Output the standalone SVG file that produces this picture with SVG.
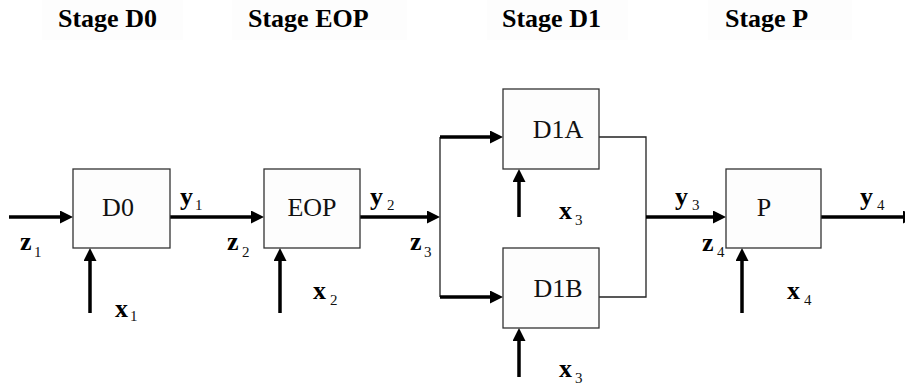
<svg xmlns="http://www.w3.org/2000/svg" width="905" height="386" viewBox="0 0 905 386">
  <defs>
    <!-- filled arrowhead, 13px long; the shaft stops 10px short of the tip -->
    <marker id="head" markerUnits="userSpaceOnUse" markerWidth="13" markerHeight="13" refX="3" refY="6.5" orient="auto" viewBox="0 0 13 13">
      <path d="M0,0 L13,6.5 L0,13 z" fill="#000"/>
    </marker>
    <style>
      text { font-family: 'Liberation Serif', 'Times New Roman', serif; }
      .stage { font-weight: bold; font-size: 26px; fill: #000; }
      .stage-bg { fill: #fdfdfd; }
      .box { fill: #fdfdfd; stroke: #333; stroke-width: 1.3; }
      .name { font-size: 26px; fill: #111; text-anchor: middle; }
      .var { font-weight: bold; font-size: 26px; fill: #000; }
      .sub { font-size: 15px; fill: #111; }
      .thick { fill: none; stroke: #000; stroke-width: 3.5; marker-end: url(#head); }
      .thin { fill: none; stroke: #222; stroke-width: 1.3; }
    </style>
  </defs>

  <!-- stage headings -->
  <g id="stages">
    <rect class="stage-bg" x="42" y="0" width="141" height="40"/>
    <rect class="stage-bg" x="232" y="0" width="175" height="40"/>
    <rect class="stage-bg" x="487" y="0" width="141" height="40"/>
    <rect class="stage-bg" x="708" y="0" width="144" height="40"/>
    <text class="stage" x="58" y="27">Stage D0</text>
    <text class="stage" x="248" y="27">Stage EOP</text>
    <text class="stage" x="502" y="27">Stage D1</text>
    <text class="stage" x="725" y="27">Stage P</text>
  </g>

  <!-- connectors -->
  <g id="connectors">
    <!-- main line -->
    <path class="thick" d="M9,217 H63"/>
    <path class="thick" d="M170,217 H254"/>
    <path class="thick" d="M360,217 H430"/>
    <!-- split to the two D1 branches -->
    <path class="thin" d="M440,137 V297"/>
    <path class="thick" d="M440,137 H493"/>
    <path class="thick" d="M440,297 H493"/>
    <!-- merge of the D1 branches -->
    <path class="thin" d="M599,137 H646 V297 H599"/>
    <path class="thick" d="M646,217 H716"/>
    <path class="thick" d="M821,217 H906"/>
    <!-- side inputs -->
    <path class="thick" d="M90,313 V258"/>
    <path class="thick" d="M280,313 V258"/>
    <path class="thick" d="M519,217 V179"/>
    <path class="thick" d="M519,377 V338"/>
    <path class="thick" d="M742,313 V258"/>
  </g>

  <g id="D0">
    <rect class="box" x="73" y="169" width="97" height="79"/>
    <text class="name" x="118" y="216">D0</text>
  </g>
  <g id="EOP">
    <rect class="box" x="264" y="169" width="96" height="79"/>
    <text class="name" x="312" y="216">EOP</text>
  </g>
  <g id="D1A">
    <rect class="box" x="503" y="89" width="96" height="80"/>
    <text class="name" x="558" y="138">D1A</text>
  </g>
  <g id="D1B">
    <rect class="box" x="503" y="248" width="96" height="80"/>
    <text class="name" x="558" y="297">D1B</text>
  </g>
  <g id="P">
    <rect class="box" x="726" y="169" width="95" height="79"/>
    <text class="name" x="764" y="216">P</text>
  </g>

  <!-- signal labels -->
  <g id="labels">
    <text class="var" x="20" y="250">z</text><text class="sub" x="34" y="257">1</text>
    <text class="var" x="180" y="205">y</text><text class="sub" x="195" y="210">1</text>
    <text class="var" x="115" y="317">x</text><text class="sub" x="130" y="321">1</text>

    <text class="var" x="227" y="250">z</text><text class="sub" x="242" y="257">2</text>
    <text class="var" x="370" y="205">y</text><text class="sub" x="387" y="210">2</text>
    <text class="var" x="313" y="299">x</text><text class="sub" x="330" y="305">2</text>

    <text class="var" x="410" y="250">z</text><text class="sub" x="424" y="257">3</text>
    <text class="var" x="559" y="219">x</text><text class="sub" x="575" y="225">3</text>
    <text class="var" x="559" y="377">x</text><text class="sub" x="575" y="383">3</text>

    <text class="var" x="675" y="205">y</text><text class="sub" x="692" y="210">3</text>
    <text class="var" x="702" y="251">z</text><text class="sub" x="717" y="257">4</text>
    <text class="var" x="860" y="205">y</text><text class="sub" x="877" y="210">4</text>
    <text class="var" x="787" y="299">x</text><text class="sub" x="804" y="305">4</text>
  </g>
</svg>
